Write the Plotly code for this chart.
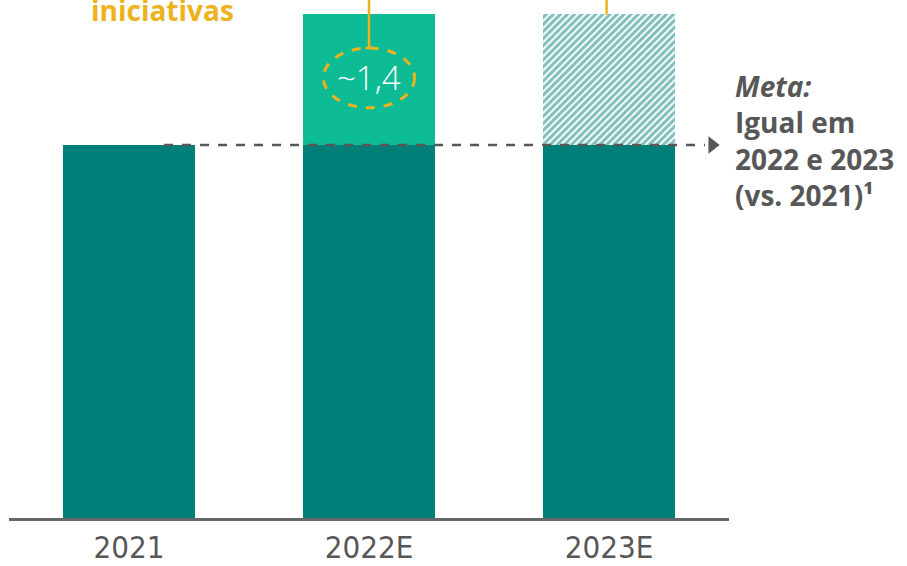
import plotly.graph_objects as go

# Chart data
categories = ["2021", "2022E", "2023E"]
base_values = [4.0, 4.0, 4.0]
initiatives_2022 = [None, 1.4, None]
initiatives_2023 = [None, None, 1.4]
initiative_label = "~1,4"

TEAL = "#007F78"
GREEN = "#0DBB95"
GOLD = "#EDB21D"
GREY = "#575757"

xpos = list(range(len(categories)))

fig = go.Figure()
fig.add_trace(go.Bar(x=xpos, y=base_values, marker=dict(color=TEAL, line_width=0),
                     hoverinfo="skip"))
fig.add_trace(go.Bar(x=xpos, y=initiatives_2022, marker=dict(color=GREEN, line_width=0),
                     hoverinfo="skip"))
fig.add_trace(go.Bar(x=xpos, y=initiatives_2023,
                     marker=dict(color="white", line_width=0,
                                 pattern=dict(shape="/", fgcolor=TEAL, bgcolor="white",
                                              size=5, solidity=0.6, fillmode="overlay")),
                     hoverinfo="skip"))

target = base_values[0]
top_2023 = base_values[2] + initiatives_2023[2]
y_max = 5.555

# dashed target line with arrow head
fig.add_shape(type="line", xref="x", yref="y", x0=0.146, x1=2.40, y0=target, y1=target,
              line=dict(color=GREY, width=2.5, dash="dash"), layer="above")
fig.add_trace(go.Scatter(x=[2.43], y=[target], mode="markers",
                         marker=dict(symbol="triangle-right", size=15, color=GREY),
                         hoverinfo="skip", cliponaxis=False))

# callout for 2022E increment
ell_cy = 4.72
fig.add_shape(type="circle", xref="x", yref="y", x0=1 - 0.19, x1=1 + 0.19,
              y0=ell_cy - 0.32, y1=ell_cy + 0.32,
              line=dict(color=GOLD, width=3, dash="dash"), layer="above")
fig.add_shape(type="line", xref="x", yref="y", x0=1, x1=1, y0=ell_cy + 0.32, y1=y_max + 0.2,
              line=dict(color=GOLD, width=2.5), layer="above")
fig.add_shape(type="line", xref="x", yref="y", x0=0.985, x1=1.015, y0=ell_cy + 0.32,
              y1=ell_cy + 0.32, line=dict(color=GOLD, width=2.5), layer="above")
fig.add_annotation(x=1, y=ell_cy, xref="x", yref="y", text=initiative_label, showarrow=False,
                   font=dict(family="Open Sans", size=33, color="white", weight=300))

# callout line for 2023E
fig.add_shape(type="line", xref="x", yref="y", x0=1.99, x1=1.99, y0=top_2023, y1=y_max + 0.2,
              line=dict(color=GOLD, width=2.5), layer="above")

fig.add_annotation(x=0.2125, y=0.98, xref="paper", yref="paper", text="<b>iniciativas</b>",
                   showarrow=False, xanchor="center", yanchor="middle",
                   font=dict(family="Open Sans", size=28, color=GOLD))

fig.add_annotation(x=1.006, y=0.728, xref="paper", yref="paper",
                   text="<b><i>Meta:</i></b><br><b>Igual em</b><br><b>2022 e 2023</b><br>"
                        "<b>(vs. 2021)¹</b>",
                   showarrow=False, xanchor="left", yanchor="middle", align="left",
                   font=dict(family="Open Sans", size=28, color=GREY))

fig.update_layout(
    width=907, height=566, barmode="stack", bargap=0.45, showlegend=False,
    margin=dict(l=9, r=178, t=0, b=48),
    plot_bgcolor="white", paper_bgcolor="white",
    xaxis=dict(range=[-0.5, 2.5], tickvals=xpos, ticktext=categories,
               showgrid=False, zeroline=False,
               showline=True, linecolor="#666666", linewidth=2.5, ticks="",
               tickfont=dict(family="Liberation Sans Narrow, DejaVu Sans Condensed, Open Sans",
                             size=31, color=GREY)),
    yaxis=dict(range=[0, y_max], visible=False, showgrid=False, zeroline=False),
)

fig.write_html("out.html")
